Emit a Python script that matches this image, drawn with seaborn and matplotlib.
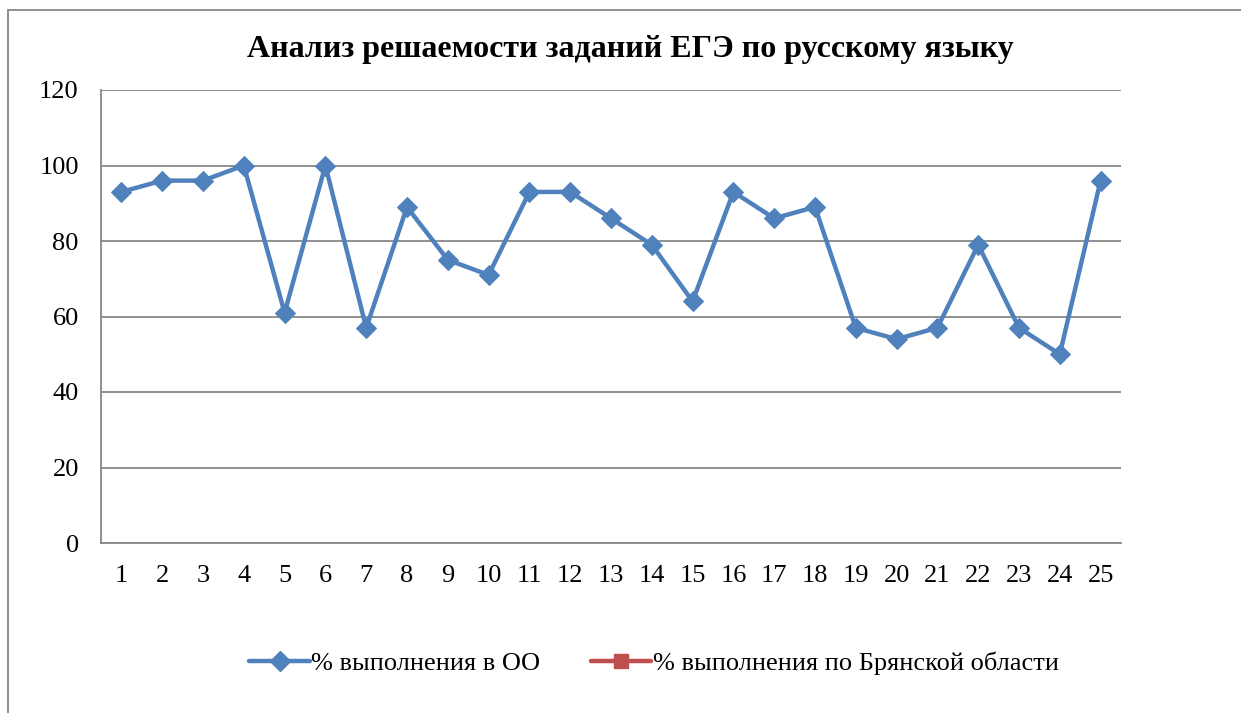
import numpy as np
import pandas as pd
import matplotlib
matplotlib.use("Agg")
import matplotlib.pyplot as plt
from matplotlib.lines import Line2D
import seaborn as sns

tasks = list(range(1, 26))
school_pct = [93, 96, 96, 100, 61, 100, 57, 89, 75, 71, 93, 93, 86, 79, 64,
              93, 86, 89, 57, 54, 57, 79, 57, 50, 96]
region_pct = [np.nan] * 25
series_names = ["% выполнения в ОО", "% выполнения по Брянской области"]
title = "Анализ решаемости заданий ЕГЭ по русскому языку"
y_ticks = [0, 20, 40, 60, 80, 100, 120]

sns.set_theme(style="white")
plt.rcParams["font.family"] = ["Liberation Serif", "DejaVu Serif"]
plt.rcParams["text.color"] = "black"

blue = "#4F81BD"
red = "#C0504D"
grid_c = "#878787"

fig = plt.figure(figsize=(12.41, 7.13), dpi=100)
ax = fig.add_axes([101 / 1241, 1 - 543 / 713, 1020 / 1241, 453 / 713])

df = pd.DataFrame({"task": tasks, "school": school_pct, "region": region_pct})
sns.lineplot(data=df, x="task", y="school", ax=ax, color=blue, lw=3.2,
             marker="D", markersize=10, markeredgecolor=blue,
             label=series_names[0], legend=False)
ax.plot(df["task"], df["region"], color=red, lw=3.2, marker="s",
        markersize=9.5, label=series_names[1])

ax.set_xlim(0.5, 25.5)
ax.set_ylim(0, 120)
ax.set_xticks(tasks)
ax.set_xticklabels([str(t) for t in tasks])
ax.set_yticks(y_ticks)
ax.set_xlabel("")
ax.set_ylabel("")
ax.tick_params(axis="both", labelsize=19, colors="black", length=0)
ax.tick_params(axis="x", pad=16)
ax.tick_params(axis="y", pad=16)
ax.yaxis.grid(True, color=grid_c, lw=1.3)
ax.xaxis.grid(False)
for side in ["top", "right"]:
    ax.spines[side].set_visible(False)
for side in ["left", "bottom"]:
    ax.spines[side].set_color(grid_c)
    ax.spines[side].set_linewidth(1.3)

fig.text(630 / 1241, 1 - 50 / 713, title, ha="center", va="center",
         fontsize=23, fontweight="bold", color="black")

handles = [
    Line2D([], [], color=blue, lw=3.2, marker="D", markersize=10),
    Line2D([], [], color=red, lw=3.2, marker="s", markersize=9.5),
]
fig.legend(handles, series_names, loc="center", ncol=2,
           bbox_to_anchor=(654 / 1241, 1 - 663 / 713), frameon=False,
           fontsize=19, handlelength=2.3, handletextpad=0.05,
           columnspacing=1.9, labelcolor="black")

# chart frame
fig.add_artist(Line2D([8 / 1241, 8 / 1241], [0, 1 - 10 / 713],
                      transform=fig.transFigure, color=grid_c, lw=1.3))
fig.add_artist(Line2D([8 / 1241, 1], [1 - 10 / 713, 1 - 10 / 713],
                      transform=fig.transFigure, color=grid_c, lw=1.3))

fig.savefig("out.png", dpi=100, facecolor="white")
